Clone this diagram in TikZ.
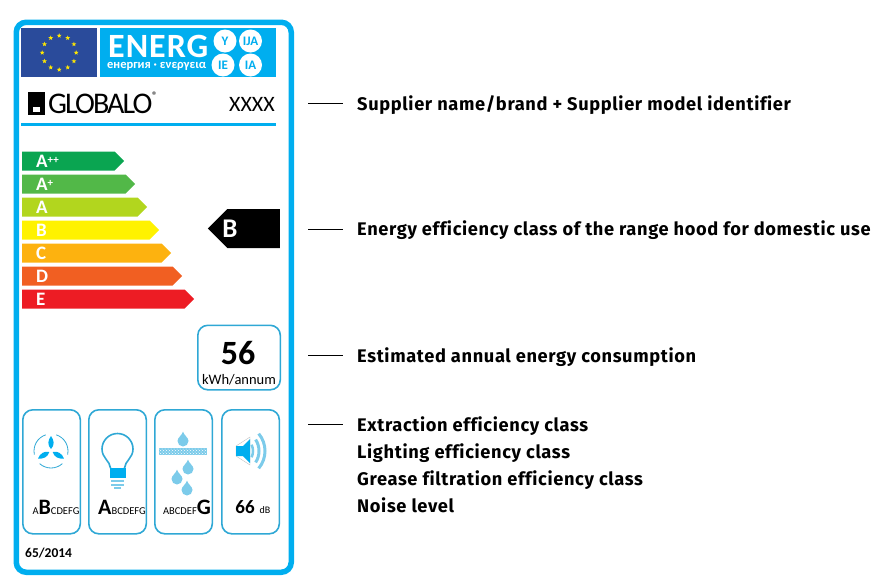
\documentclass[tikz,border=0pt]{standalone}
\usepackage{fontspec}
\setmainfont{Carlito}
\newfontfamily\labelfont[LetterSpace=3.5,Ligatures=NoCommon]{Fira Sans}
\usetikzlibrary{positioning,patterns,shapes.geometric,shapes.symbols}

\definecolor{framecyan}{HTML}{00AEEF}
\definecolor{boxcyan}{HTML}{2FA8D5}
\definecolor{iconcyan}{HTML}{7CCBEA}
\definecolor{flagblue}{HTML}{2A4B9B}
\definecolor{classapp}{HTML}{0AA551}
\definecolor{classap}{HTML}{52B848}
\definecolor{classa}{HTML}{B2D61E}
\definecolor{classb}{HTML}{FFF200}
\definecolor{classc}{HTML}{FDB20F}
\definecolor{classd}{HTML}{F15F22}
\definecolor{classe}{HTML}{ED1C24}

\tikzset{
	droplet/.pic={\fill[iconcyan] (0,7.5) .. controls (1,3.5) and (5.5,1.5) .. (5.5,-2) arc (0:-180:5.5) .. controls (-5.5,1.5) and (-1,3.5) .. (0,7.5) -- cycle;}
}

\begin{document}
\begin{tikzpicture}[x=1pt,y=1pt,font=\bfseries, >=latex]
				\tikzstyle{bar}=[signal,signal to=east,signal pointer angle=90,anchor=west,minimum height=19pt,inner sep=0pt]
				\tikzstyle{bartext}=[anchor=west,white,font=\bfseries\fontsize{19}{19}\selectfont,inner sep=0pt]
				\tikzstyle{iconbox}=[draw=boxcyan,line width=1.6pt,rounded corners=10pt,minimum width=57.5pt,minimum height=124pt,anchor=north west]
				\tikzstyle{classtext}=[anchor=base,inner sep=0pt,font=\mdseries\fontsize{10.5}{10}\selectfont]
				\tikzstyle{badge}=[circle,fill=white,text=framecyan,minimum size=23pt,inner sep=0pt,font=\bfseries\fontsize{13}{13}\selectfont]
				\tikzstyle{caption}=[anchor=west,inner sep=0pt,text height=11pt,text depth=3pt,font=\labelfont\fontsize{18.25}{18}\selectfont\bfseries]
				\tikzstyle{leader}=[black,line width=0.9pt]
				\useasboundingbox (0,0) rectangle (880,-581);
				%Frame
				\node[draw=framecyan,line width=5.5pt,rounded corners=10pt,minimum width=275pt,minimum height=550pt,anchor=north west] (frame) at (13.5,-19.5) {};
				%Flag
				\node[fill=flagblue,minimum width=76pt,minimum height=49pt,anchor=north west] (flag) at (21,-28) {};
				\foreach \a in {0,30,...,330}
					\node[star,star points=5,star point ratio=2.4,fill=yellow!90!orange,minimum size=5pt,inner sep=0pt] at ([shift={(\a:17)}]flag.center) {};
				%Energy banner
				\node[fill=framecyan,minimum width=176pt,minimum height=49pt,anchor=north west] (banner) at (100,-28) {};
				\node[white,anchor=base west,inner sep=0pt,text depth=0pt,font=\bfseries\fontsize{34}{34}\selectfont\addfontfeatures{LetterSpace=3}] (energ) at (108,-57.5) {ENERG};
				\node[white,anchor=base west,inner sep=0pt,text height=8pt,font=\bfseries\fontsize{12.5}{12.5}\selectfont] (energ2) at (107,-68.5) {енергия · ενεργεια};
				\node[badge] (bY) at (225,-41) {Y};
				\node[badge] (bIJA) at (250.5,-41) {IJA};
				\node[badge] (bIE) at (223,-65) {IE};
				\node[badge] (bIA) at (250.5,-65) {IA};
				%Supplier row
				\node[fill=black,minimum width=17pt,minimum height=23pt,anchor=north west,inner sep=0pt] (logo) at (28,-92) {};
				\node[fill=white,minimum width=7pt,minimum height=5pt,inner sep=0pt] (logohole) at (36.5,-109.5) {};
				\node[anchor=base west,inner sep=0pt,font=\mdseries\fontsize{30}{30}\selectfont\addfontfeatures{LetterSpace=-6.5}] (globalo) at (48,-113) {GLOBALO};
				\node[anchor=base west,inner sep=0pt,font=\mdseries\fontsize{11}{11}\selectfont] (reg) at (152,-99) {®};
				\node[anchor=base east,inner sep=0pt,font=\mdseries\fontsize{22}{22}\selectfont] (xxxx) at (275,-111) {XXXX};
				\draw[framecyan,line width=2.2pt] (21,-124.5) -- (276,-124.5);
				%Scale
				\node[bar,fill=classapp,minimum width=102pt] (app) at (22,-161) {};
				\node[bar,fill=classap,minimum width=113pt] (ap) at (22,-184) {};
				\node[bar,fill=classa,minimum width=125pt] (a) at (22,-207) {};
				\node[bar,fill=classb,minimum width=137pt] (b) at (22,-230) {};
				\node[bar,fill=classc,minimum width=149pt] (c) at (22,-253) {};
				\node[bar,fill=classd,minimum width=160pt] (d) at (22,-276) {};
				\node[bar,fill=classe,minimum width=172pt] (e) at (22,-299) {};
				\node[bartext] (tapp) at (36,-161) {A\raisebox{4pt}{\fontsize{11}{11}\selectfont ++}};
				\node[bartext] (tap) at (36,-184) {A\raisebox{4pt}{\fontsize{11}{11}\selectfont +}};
				\node[bartext] (ta) at (36,-207) {A};
				\node[bartext] (tb) at (36,-230) {B};
				\node[bartext] (tc) at (36,-253) {C};
				\node[bartext] (td) at (36,-276) {D};
				\node[bartext] (te) at (36,-299) {E};
				%Class arrow
				\node[signal,signal to=west,signal pointer angle=90,fill=black,minimum width=72pt,minimum height=39pt,inner sep=0pt,anchor=east] (cls) at (280,-228.5) {};
				\node[white,inner sep=0pt,font=\bfseries\fontsize{27}{27}\selectfont] (clsb) at (230,-229) {B};
				%Consumption
				\node[draw=boxcyan,line width=1.6pt,rounded corners=10pt,minimum width=82.5pt,minimum height=64.5pt,anchor=north west] (kwh) at (197,-324.5) {};
				\node[inner sep=0pt,font=\bfseries\fontsize{34}{34}\selectfont] (kwh56) at (238,-353) {56};
				\node[inner sep=0pt,font=\mdseries\fontsize{14.5}{14}\selectfont] (kwhunit) at (239,-380) {kWh/annum};
				%Icon boxes
				\node[iconbox] (box1) at (22,-409) {};
				\node[iconbox] (box2) at (88,-409) {};
				\node[iconbox] (box3) at (154,-409) {};
				\node[iconbox] (box4) at (221,-409) {};
				%Fan
				\begin{scope}[shift={(51,-451)}]
					\foreach \a in {0,120,240}
						\fill[framecyan,rotate=\a] (0,2) .. controls (-4,6) and (-3,11) .. (0,15) .. controls (3,11) and (4,6) .. (0,2) -- cycle;
					\foreach \a in {30,150,270}
						\draw[boxcyan,line width=0.8pt] (\a-42:17) arc[start angle=\a-42,end angle=\a+42,radius=17];
				\end{scope}
				%Bulb
				\draw[boxcyan,line width=1.6pt] (110.5,-468) .. controls (110,-461) and (102,-458) .. (102,-449) arc[start angle=180,end angle=0,radius=15.5] .. controls (133,-458) and (125,-461) .. (124.5,-468);
				\fill[framecyan] (109.5,-468) rectangle (125.5,-478);
				\foreach \y in {-481,-484.5}
					\draw[iconcyan,line width=2pt] (111,\y) -- (124,\y);
				\draw[iconcyan,line width=2pt] (114,-487.5) -- (121,-487.5);
				%Filter
				\pic at (183,-439) {droplet};
				\fill[iconcyan] (159,-448) rectangle (207,-455);
				\fill[pattern=crosshatch dots,pattern color=white] (159,-448) rectangle (207,-455);
				\pic at (188,-467) {droplet};
				\pic at (177,-477) {droplet};
				\pic at (187,-488) {droplet};
				%Speaker
				\fill[white,draw=gray!50,line width=0.4pt] (236,-446) -- (250,-437) -- (250,-465) -- (236,-456) -- cycle;
				\fill[framecyan] (236,-446) -- (243,-446) -- (250,-439) -- (250,-463) -- (243,-456) -- (236,-456) -- cycle;
				\draw[iconcyan,line width=2.5pt] (238,-451) ++(-25:15) arc[start angle=-25,end angle=25,radius=15];
				\draw[iconcyan,line width=3pt] (238,-451) ++(-33:21) arc[start angle=-33,end angle=33,radius=21];
				\draw[iconcyan,line width=3pt] (238,-451) ++(-40:27) arc[start angle=-40,end angle=40,radius=27];
				%Class letters
				\node[classtext] (cl1) at (56,-514) {A{\bfseries\fontsize{22}{22}\selectfont B}CDEFG};
				\node[classtext] (cl2) at (122,-514) {{\bfseries\fontsize{22}{22}\selectfont A}BCDEFG};
				\node[classtext] (cl3) at (187,-514) {ABCDEF{\bfseries\fontsize{22}{22}\selectfont G}};
				\node[anchor=base,inner sep=0pt,font=\bfseries\fontsize{19}{19}\selectfont] (noise) at (245,-513) {66};
				\node[anchor=base,inner sep=0pt,font=\mdseries\fontsize{10}{10}\selectfont] (noiseunit) at (265,-513) {dB};
				\node[anchor=base west,inner sep=0pt,font=\bfseries\fontsize{13.5}{13}\selectfont] (reg2014) at (25,-557) {65/2014};
				%Captions
				\node[caption] (txt1) at (357,-106) {Supplier name/brand + Supplier model identifier};
				\node[caption] (txt2) at (357,-231.5) {Energy efficiency class of the range hood for domestic use};
				\node[caption] (txt3) at (357,-358) {Estimated annual energy consumption};
				\node[caption] (txt4) at (357,-427) {Extraction efficiency class};
				\node[caption,below=27pt of txt4.west,anchor=west] (txt5) {Lighting efficiency class};
				\node[caption,below=27pt of txt5.west,anchor=west] (txt6) {Grease filtration efficiency class};
				\node[caption,below=27pt of txt6.west,anchor=west] (txt7) {Noise level};
				%Leaders
				\coordinate (lead1) at (308,-103);
				\coordinate (lead2) at (308,-229);
				\coordinate (lead3) at (308,-355);
				\coordinate (lead4) at (308,-424);
				\draw[leader,shorten >=14pt] (lead1) -- (lead1 -| txt1.west);
				\draw[leader,shorten >=14pt] (lead2) -- (lead2 -| txt2.west);
				\draw[leader,shorten >=14pt] (lead3) -- (lead3 -| txt3.west);
				\draw[leader,shorten >=14pt] (lead4) -- (lead4 -| txt4.west);
				\end{tikzpicture}
\end{document}
